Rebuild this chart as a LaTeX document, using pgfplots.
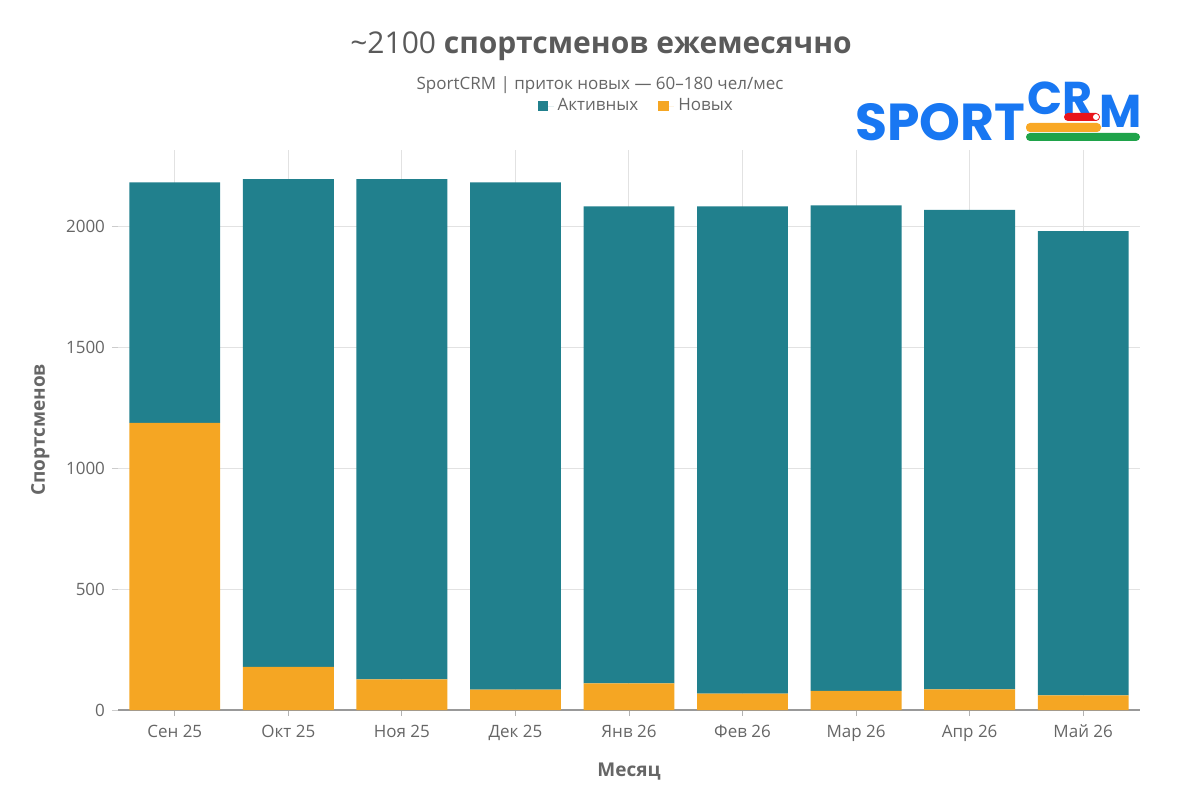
\documentclass[border=0pt]{standalone}
\usepackage{pgfplots}
\pgfplotsset{compat=1.18}
\usepackage{fontspec}
\setmainfont{Open Sans}
\newfontfamily\logofont{Poppins}
\definecolor{teal1}{HTML}{21808D}
\definecolor{orange1}{HTML}{F5A623}
\definecolor{txt}{HTML}{666666}
\definecolor{ttl}{HTML}{5A5A5A}
\definecolor{gridc}{HTML}{E2E2E2}
\definecolor{logob}{HTML}{1877F2}
\definecolor{logog}{HTML}{1FA34A}
\definecolor{logor}{HTML}{E8141B}
\definecolor{logoo}{HTML}{F9A825}
\newcommand{\PX}[2]{({#1*0.5pt},{400pt-#2*0.5pt})}
\begin{document}
\begin{tikzpicture}
\path (0,0) rectangle (600pt,400pt);
\begin{axis}[
  at={(59pt,45pt)}, anchor=south west,
  scale only axis, width=511pt, height=280pt,
  ybar stacked, bar width=0.8,
  xmin=-0.5, xmax=8.5, ymin=0, ymax=2317,
  xtick={0,...,8},
  xticklabels={Сен 25,Окт 25,Ноя 25,Дек 25,Янв 26,Фев 26,Мар 26,Апр 26,Май 26},
  ytick={0,500,1000,1500,2000},
  /pgf/number format/assume math mode=true,
  /pgf/number format/1000 sep={},
  ticklabel style={font=\fontsize{8.5}{10}\selectfont, text=txt},
  xmajorgrids, ymajorgrids,
  grid style={gridc, line width=0.5pt},
  axis x line*=bottom, axis y line*=left,
  x axis line style={draw=gray!80, line width=0.8pt, -},
  y axis line style={draw=none},
  xtick style={draw=gray!60, line width=0.4pt},
  major tick length=3pt,
  tick align=outside,
  ytick style={draw=gray!40, line width=0.4pt},
  yticklabel style={xshift=0pt},
  xticklabel style={yshift=-1pt},
  xlabel={\textbf{Месяц}},
  ylabel={\textbf{Спортсменов}},
  label style={font=\fontsize{9.5}{11}\selectfont, text=txt},
  xlabel style={yshift=-4pt},
  ylabel style={yshift=1.5pt},
  legend columns=2, reverse legend,
  legend style={at={(0.508,1.079)}, anchor=center, draw=none, fill=none,
    font=\fontsize{8.5}{10}\selectfont, text=txt,
    /tikz/every even column/.append style={column sep=8pt}},
  legend image code/.code={\fill[#1] (0pt,-2.6pt) rectangle (5.2pt,2.6pt); \path (0pt,0pt) rectangle (8pt,0pt);},
]
\addplot[fill=orange1, draw=none] coordinates {(0,1188) (1,178) (2,127) (3,84) (4,110) (5,68) (6,79) (7,85) (8,61)};
\addlegendentry{Новых}
\addplot[fill=teal1, draw=none] coordinates {(0,995) (1,2018) (2,2070) (3,2099) (4,1974) (5,2016) (6,2009) (7,1984) (8,1920)};
\addlegendentry{Активных}
\end{axis}
\node[text=ttl, font=\fontsize{15}{17}\selectfont] at \PX{601}{46} {\textasciitilde2100 \textbf{спортсменов ежемесячно}};
\node[text=txt, font=\fontsize{8.5}{10}\selectfont] at \PX{600}{85} {SportCRM | приток новых — 60–180 чел/мес};
% logo
\node[text=logob, font=\logofont\bfseries\fontsize{26}{30}\selectfont, anchor=base west, inner sep=0] at \PX{855}{140} {SPORT};
\node[text=logob, font=\logofont\bfseries\fontsize{23}{26}\selectfont, anchor=base west, inner sep=0] at \PX{1027}{115} {CR};
\node[text=logob, font=\logofont\bfseries\fontsize{23}{26}\selectfont, anchor=base west, inner sep=0] at \PX{1099}{128} {M};
\fill[logoo, rounded corners=2pt] \PX{1026}{132} rectangle \PX{1101}{123};
\fill[logor, rounded corners=2pt] \PX{1064}{121} rectangle \PX{1100}{113};
\fill[white] \PX{1096}{117} circle (1.5pt);
\fill[logog, rounded corners=2pt] \PX{1026}{141} rectangle \PX{1140}{133};
\end{tikzpicture}
\end{document}
